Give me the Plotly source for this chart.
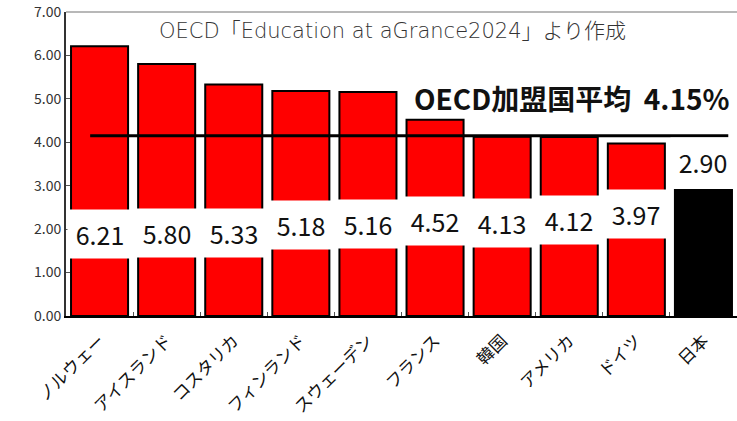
import plotly.graph_objects as go

categories = ["ノルウェー", "アイスランド", "コスタリカ", "フィンランド", "スウェーデン",
              "フランス", "韓国", "アメリカ", "ドイツ", "日本"]
values = [6.21, 5.80, 5.33, 5.18, 5.16, 4.52, 4.13, 4.12, 3.97, 2.90]
oecd_avg = 4.15
y_ticks = [0, 1, 2, 3, 4, 5, 6, 7]
source_text = "OECD「Education at aGrance2024」より作成"
avg_text = "OECD加盟国平均\u00a0\u00a04.15%"

# label box vertical centres (axis units)
label_pos = [1.89, 1.92, 1.91, 2.10, 2.13, 2.18, 2.15, 2.21, 2.34, 3.55]

FONT = "Noto Sans CJK JP, Liberation Sans, sans-serif"
TITLE_FONT = "DejaVu Sans, Noto Sans CJK JP, sans-serif"
colors = ["#ff0000"] * (len(values) - 1) + ["#000000"]

fig = go.Figure()
fig.add_trace(go.Bar(
    x=categories, y=values,
    marker=dict(color=colors, line=dict(color="#000000", width=2)),
    hoverinfo="skip",
))

for cat, v, ly in zip(categories, values, label_pos):
    fig.add_annotation(
        x=cat, y=ly, xref="x", yref="y", text=f"{v:.2f}",
        showarrow=False, bgcolor="white", width=62, height=46,
        font=dict(family=FONT, size=25, color="#111111"),
        xanchor="center", yanchor="middle",
    )

fig.add_shape(type="line", xref="x", yref="y", x0=-0.14, x1=9.37,
              y0=oecd_avg, y1=oecd_avg, line=dict(color="#000000", width=3),
              layer="above")
# top frame border
fig.add_shape(type="line", xref="paper", yref="paper", x0=0, x1=1, y0=1, y1=1,
              line=dict(color="#a0a0a0", width=1.5))

fig.add_annotation(x=0.993, y=5.02, xref="paper", yref="y", text=f"<b>{avg_text}</b>",
                   showarrow=False, xanchor="right", yanchor="middle",
                   font=dict(family=FONT, size=28, color="#111111"))
fig.add_annotation(x=0.486, y=0.9375, xref="paper", yref="paper", text=source_text,
                   showarrow=False, xanchor="center", yanchor="middle",
                   font=dict(family=TITLE_FONT, size=21, color="#333333", weight=300))

fig.update_layout(
    width=737, height=421,
    margin=dict(l=66, r=0, t=12, b=105, autoexpand=False),
    paper_bgcolor="white", plot_bgcolor="white",
    bargap=0.15, showlegend=False,
)
fig.update_xaxes(
    type="category", showline=True, linecolor="#000000", linewidth=2,
    ticks="inside", tickson="boundaries", ticklen=4, tickcolor="#555555",
    tickangle=-45, showgrid=False, automargin=False, ticklabelstandoff=6,
    tickfont=dict(family=FONT, size=17, color="#111111"),
)
fig.update_yaxes(
    range=[0, 7], tickvals=y_ticks, ticktext=[f"{t:.2f}" for t in y_ticks],
    showline=True, linecolor="#333333", linewidth=2, automargin=False,
    ticks="inside", ticklen=4, tickcolor="#555555", showgrid=False, zeroline=False,
    tickfont=dict(family=FONT, size=14, color="#333333"),
)

# remove the browser's default page margin so the figure fills the window
fig.write_html("out.html", config={"displayModeBar": False},
               post_script="document.body.style.margin='0';document.body.style.overflow='hidden';")
